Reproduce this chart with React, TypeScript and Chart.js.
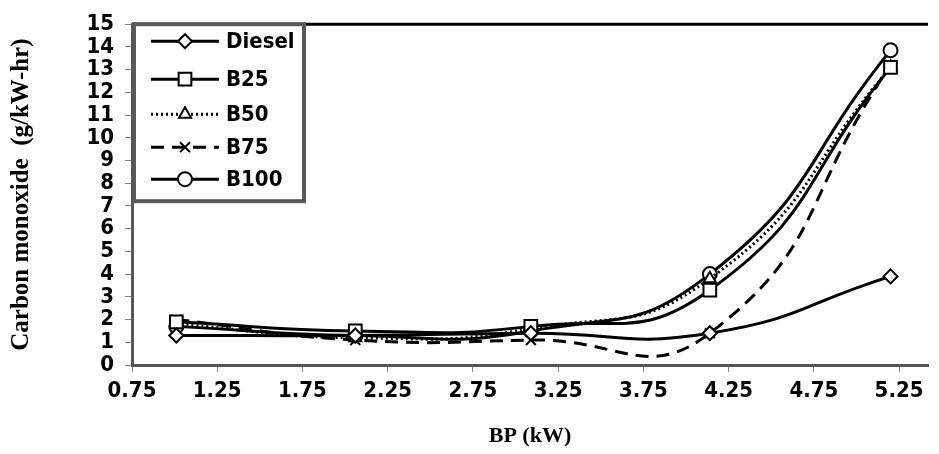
import React, { useEffect, useRef } from "react";
import { Chart, registerables } from "chart.js";

Chart.register(...registerables);

const bpValues = [1.01, 2.06, 3.09, 4.14, 5.2];
const dieselCO = [1.3, 1.3, 1.4, 1.4, 3.9];
const b25CO = [1.9, 1.5, 1.7, 3.3, 13.1];
const b50CO = [1.8, 1.2, 1.6, 3.8, 13.1];
const b75CO = [2.0, 1.1, 1.1, 1.4, 13.2];
const b100CO = [1.7, 1.3, 1.5, 4.0, 13.85];
const seriesLabels = ["Diesel", "B25", "B50", "B75", "B100"];
const xTickValues = [0.75, 1.25, 1.75, 2.25, 2.75, 3.25, 3.75, 4.25, 4.75, 5.25];
const yTickValues = [0, 1, 2, 3, 4, 5, 6, 7, 8, 9, 10, 11, 12, 13, 14, 15];

const tickFont = "'Liberation Sans Narrow', 'Arial Narrow', 'DejaVu Sans Condensed', sans-serif";
const titleFont = "'Liberation Serif', 'Times New Roman', serif";

const toPoints = (ys: number[]) => bpValues.map((x, i) => ({ x, y: ys[i] }));

function drawMarker(ctx: CanvasRenderingContext2D, style: string, x: number, y: number, r: number) {
  ctx.beginPath();
  if (style === "circle") {
    ctx.arc(x, y, r, 0, Math.PI * 2);
    ctx.fill();
    ctx.stroke();
  } else if (style === "rect") {
    const s = r * Math.SQRT1_2;
    ctx.rect(x - s, y - s, 2 * s, 2 * s);
    ctx.fill();
    ctx.stroke();
  } else if (style === "rectRot") {
    ctx.moveTo(x - r, y);
    ctx.lineTo(x, y - r);
    ctx.lineTo(x + r, y);
    ctx.lineTo(x, y + r);
    ctx.closePath();
    ctx.fill();
    ctx.stroke();
  } else if (style === "triangle") {
    ctx.moveTo(x, y - r);
    ctx.lineTo(x + r * 0.866, y + r / 2);
    ctx.lineTo(x - r * 0.866, y + r / 2);
    ctx.closePath();
    ctx.fill();
    ctx.stroke();
  } else if (style === "crossRot") {
    const d = r * Math.SQRT1_2;
    ctx.moveTo(x - d, y - d);
    ctx.lineTo(x + d, y + d);
    ctx.moveTo(x + d, y - d);
    ctx.lineTo(x - d, y + d);
    ctx.stroke();
  }
}

const legendPlugin = {
  id: "insideLegend",
  afterDraw(chart: any) {
    const ctx = chart.ctx;
    const ca = chart.chartArea;
    ctx.save();
    ctx.strokeStyle = "#000";
    ctx.lineWidth = 3;
    ctx.beginPath();
    ctx.moveTo(ca.left, ca.top);
    ctx.lineTo(ca.right, ca.top);
    ctx.stroke();
    const bx = ca.left + 2, by = ca.top, bw = 170, bh = 177;
    ctx.fillStyle = "#fff";
    ctx.fillRect(bx, by, bw, bh);
    ctx.strokeStyle = "#595959";
    ctx.lineWidth = 4;
    ctx.strokeRect(bx, by, bw, bh);
    const rowYs = [17, 55, 90, 123, 155];
    chart.data.datasets.forEach((ds: any, i: number) => {
      const y = by + rowYs[i];
      const x0 = bx + 17, x1 = bx + 85;
      const cx = (x0 + x1) / 2;
      ctx.strokeStyle = "#000";
      ctx.lineWidth = 3;
      ctx.setLineDash(ds.borderDash || []);
      ctx.beginPath();
      ctx.moveTo(x0, y);
      ctx.lineTo(x1, y);
      ctx.stroke();
      ctx.setLineDash([]);
      ctx.fillStyle = "#fff";
      ctx.strokeStyle = "#000";
      ctx.lineWidth = 2;
      drawMarker(ctx, ds.pointStyle, cx, y, ds.pointRadius);
      ctx.fillStyle = "#000";
      ctx.font = `bold 22px ${tickFont}`;
      ctx.textBaseline = "middle";
      ctx.textAlign = "left";
      ctx.fillText(ds.label, bx + 92, y + 1);
    });
    ctx.restore();
  },
};

export default function App() {
  const ref = useRef<HTMLCanvasElement | null>(null);
  useEffect(() => {
    document.body.style.margin = "0";
    const styles = [
      { data: dieselCO, pointStyle: "rectRot", pointRadius: 7, borderDash: [] as number[] },
      { data: b25CO, pointStyle: "rect", pointRadius: 9, borderDash: [] as number[] },
      { data: b50CO, pointStyle: "triangle", pointRadius: 7, borderDash: [2, 3] },
      { data: b75CO, pointStyle: "crossRot", pointRadius: 7, borderDash: [13, 8] },
      { data: b100CO, pointStyle: "circle", pointRadius: 7, borderDash: [] as number[] },
    ];
    const chart = new Chart(ref.current!, {
      type: "line",
      data: {
        datasets: styles.map((s, i) => ({
          label: seriesLabels[i],
          data: toPoints(s.data),
          borderColor: "#000",
          borderWidth: 3,
          borderDash: s.borderDash,
          tension: 0.5,
          capBezierPoints: false,
          pointStyle: s.pointStyle as any,
          pointRadius: s.pointRadius,
          pointBackgroundColor: "#fff",
          pointBorderColor: "#000",
          pointBorderWidth: 2,
          fill: false,
        })),
      },
      options: {
        animation: false,
        responsive: true,
        maintainAspectRatio: false,
        layout: { padding: { top: 19, right: 3, left: 0, bottom: 0 } },
        plugins: { legend: { display: false }, tooltip: { enabled: false } },
        scales: {
          x: {
            type: "linear",
            min: 0.75,
            max: 5.42,
            afterBuildTicks: (scale: any) => {
              scale.ticks = xTickValues.map((v) => ({ value: v }));
            },
            afterFit: (scale: any) => {
              scale.height = 89;
            },
            grid: { drawOnChartArea: false, drawTicks: true, tickLength: 7, color: "#888", lineWidth: 1 },
            border: { display: true, color: "#555", width: 3 },
            ticks: {
              color: "#000",
              font: { family: tickFont, size: 22, weight: "bold" },
              padding: 6,
              maxRotation: 0,
              autoSkip: false,
              callback: (v: any) => Number(v).toFixed(2),
            },
            title: {
              display: true,
              text: "BP (kW)",
              color: "#000",
              font: { family: titleFont, size: 22, weight: "bold" },
              padding: { top: 0, bottom: 4 },
            },
          },
          y: {
            type: "linear",
            min: 0,
            max: 15,
            afterBuildTicks: (scale: any) => {
              scale.ticks = yTickValues.map((v) => ({ value: v }));
            },
            afterFit: (scale: any) => {
              scale.width = 132;
            },
            grid: { drawOnChartArea: false, drawTicks: true, tickLength: 7, color: "#888", lineWidth: 1 },
            border: { display: true, color: "#555", width: 3 },
            ticks: {
              color: "#000",
              font: { family: tickFont, size: 22, weight: "bold" },
              padding: 11,
              autoSkip: false,
            },
            title: {
              display: true,
              text: "Carbon monoxide  (g/kW-hr)",
              color: "#000",
              font: { family: titleFont, size: 25, weight: "bold" },
              padding: { top: 7, bottom: 0 },
            },
          },
        },
      } as any,
      plugins: [legendPlugin],
    });
    return () => chart.destroy();
  }, []);
  return (
    <div style={{ position: "absolute", left: 0, top: 0, width: 939, height: 454 }}>
      <canvas ref={ref} />
    </div>
  );
}
